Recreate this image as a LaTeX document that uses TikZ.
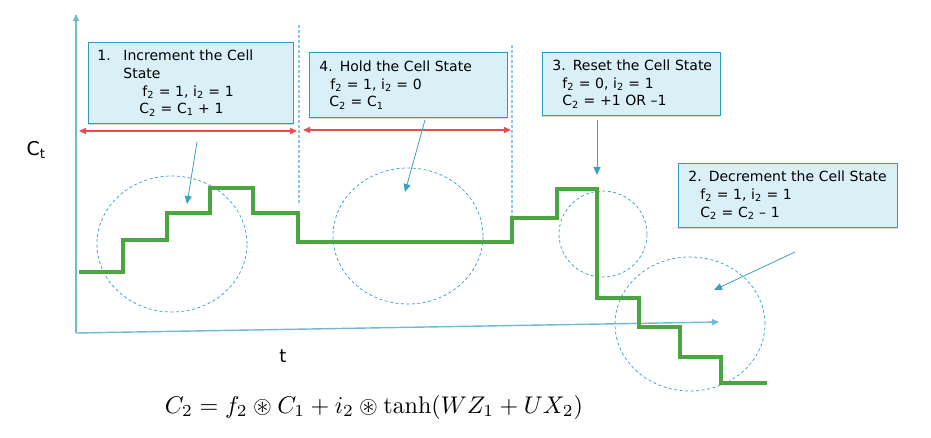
\documentclass[tikz,border=0pt]{standalone}
\usepackage[no-math]{fontspec}
\setmainfont{DejaVu Sans}
\usepackage{amssymb}
\usepackage{graphicx}
\usetikzlibrary{arrows.meta,shadows}
\definecolor{boxfill}{RGB}{218,240,247}
\definecolor{boxdraw}{RGB}{44,157,192}
\definecolor{axiscol}{RGB}{110,185,212}
\definecolor{pointcol}{RGB}{60,160,195}
\definecolor{circcol}{RGB}{50,155,200}
\definecolor{vdash}{RGB}{140,200,225}
\definecolor{redarr}{RGB}{235,75,75}
\definecolor{stepgreen}{RGB}{75,165,65}
\tikzset{
  box/.style={draw=boxdraw, fill=boxfill, line width=0.9pt, anchor=north west, align=left,
    inner ysep=4pt, font=\fontsize{14}{17.8}\selectfont,
    drop shadow={shadow xshift=0pt, shadow yshift=-2pt, opacity=0.15, fill=black}},
  axisline/.style={draw=axiscol, line width=1.4pt, -{Triangle[length=7pt,width=6pt]}},
  pointer/.style={draw=pointcol, line width=0.8pt, -{Triangle[length=8pt,width=7pt]}},
  dcirc/.style={draw=circcol, line width=0.7pt, dash pattern=on 3pt off 2.5pt},
  vline/.style={draw=vdash, line width=1.1pt, dash pattern=on 3pt off 2pt},
  span/.style={draw=redarr, line width=1.4pt, {Triangle[length=7pt,width=6pt]}-{Triangle[length=7pt,width=6pt]}},
  stepline/.style={draw=stepgreen, line width=3.6pt, line join=miter},
  lbl/.style={font=\fontsize{19}{23}\selectfont, inner sep=0pt}
}
\begin{document}
\begin{tikzpicture}[x=1pt,y=-1pt]
\useasboundingbox (0,0) rectangle (931,438);

% axes
\coordinate (origin) at (76,333);
\coordinate (ytop) at (76,14);
\coordinate (xend) at (719,322);
\draw[axisline] (origin) -- (ytop);
\draw[axisline] (origin) -- (xend);

\node[lbl] (ct) at (36,150) {C\textsubscript{t}};
\node[lbl, font=\fontsize{18}{22}\selectfont] (tl) at (283,356) {t};

% dashed verticals
\coordinate (v1t) at (299,25); \coordinate (v1b) at (299,205);
\coordinate (v2t) at (512,45); \coordinate (v2b) at (512,217);
\draw[vline] (v1t) -- (v1b);
\draw[vline] (v2t) -- (v2b);

% red spans
\coordinate (r1a) at (79,131); \coordinate (r1b) at (297,131);
\coordinate (r2a) at (303,130); \coordinate (r2b) at (511,130);
\draw[span] (r1a) -- (r1b);
\draw[span] (r2a) -- (r2b);

% dashed circles
\draw[dcirc] (172,244) ellipse [x radius=75pt, y radius=68pt];
\draw[dcirc] (408,236) ellipse [x radius=75pt, y radius=68pt];
\draw[dcirc] (603,234) ellipse [x radius=44pt, y radius=43pt];
\draw[dcirc] (690,324) ellipse [x radius=75pt, y radius=67pt];

% green step line
\draw[stepline] (79,272) -- (123,272) -- (123,240) -- (167,240) -- (167,213) -- (210,213)
  -- (210,188) -- (253,188) -- (253,213) -- (298,213) -- (298,242) -- (512,242)
  -- (512,218) -- (557,218) -- (557,189) -- (597,189) -- (597,298) -- (639,298)
  -- (639,327) -- (680,327) -- (680,357) -- (721,357) -- (721,383) -- (767,383);

% boxes
\node[box, text width=187pt, minimum height=81pt, inner xsep=9pt] (b1) at (88,42)
  {\makebox[26pt][l]{1.}Increment the Cell\\
   \hspace*{26pt}State\\
   \hspace*{45pt}f\textsubscript{2} = 1, i\textsubscript{2} = 1\\
   \hspace*{42pt}C\textsubscript{2} = C\textsubscript{1} + 1};
\node[box, text width=178pt, minimum height=65pt, inner xsep=10pt] (b4) at (309,52)
  {4. Hold the Cell State\\
   \hspace*{11pt}f\textsubscript{2} = 1, i\textsubscript{2} = 0\\
   \hspace*{10pt}C\textsubscript{2} = C\textsubscript{1}};
\node[box, text width=162pt, minimum height=63pt, inner xsep=8pt] (b3) at (542,52)
  {\hspace*{2pt}3. Reset the Cell State\\
   \hspace*{12pt}f\textsubscript{2} = 0, i\textsubscript{2} = 1\\
   \hspace*{12pt}C\textsubscript{2} = +1 OR –1};
\node[box, text width=199pt, minimum height=64pt, inner xsep=10pt] (b2) at (678,163)
  {2. Decrement the Cell State\\
   \hspace*{12pt}f\textsubscript{2} = 1, i\textsubscript{2} = 1\\
   \hspace*{12pt}C\textsubscript{2} = C\textsubscript{2} – 1};

% pointers
\coordinate (p1s) at (197,142); \coordinate (p1e) at (187,204);
\coordinate (p4s) at (425,120); \coordinate (p4e) at (405,192);
\coordinate (p3s) at (597,120); \coordinate (p3e) at (597,175);
\coordinate (p2s) at (795,252); \coordinate (p2e) at (714,290);
\draw[pointer] (p1s) -- (p1e);
\draw[pointer] (p4s) -- (p4e);
\draw[pointer] (p3s) -- (p3e);
\draw[pointer] (p2s) -- (p2e);

% formula
\node[inner sep=0pt] (eq) at (374,407)
  {\resizebox{418pt}{!}{$C_2 = f_2 \circledast C_1 + i_2 \circledast \tanh(WZ_1 + UX_2)$}};
\end{tikzpicture}
\end{document}
